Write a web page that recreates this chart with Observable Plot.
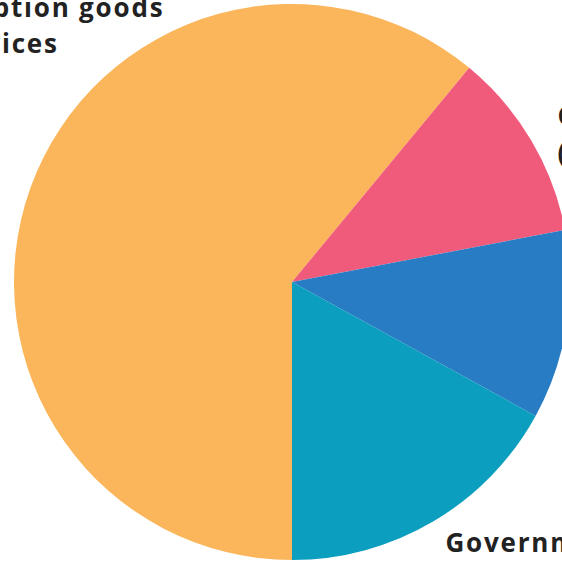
<!DOCTYPE html>
<html>
<head>
<meta charset="utf-8">
<script src="https://cdn.jsdelivr.net/npm/d3@7"></script>
<script src="https://cdn.jsdelivr.net/npm/@observablehq/plot@0.6"></script>
<style>
  html, body { margin: 0; padding: 0; background: #fff; }
  #chart { width: 562px; height: 562px; overflow: hidden; }
</style>
</head>
<body>
<div id="chart"></div>
<script>
// Data
const categories = ["Consumption goods\nand services", "Capital goods\n(investment)", "Net exports", "Government"];
const shares = [61, 11, 11, 17];
const colors = ["#FBB65B", "#F05B7C", "#287CC3", "#0B9EBE"];

const slices = categories.map((c, i) => ({category: c, value: shares[i], color: colors[i]}));

// Pie layout: start at 6 o'clock, clockwise
const pie = d3.pie().value(d => d.value).sort(null).startAngle(Math.PI).endAngle(3 * Math.PI);
const arcs = pie(slices);

// Label anchors (in pie-radius units; y is baseline of last line)
const labels = [
  {text: categories[0], x: -1.496, y: 0.824},
  {text: categories[1], x: 0.953, y: 0.435},
  {text: categories[3], x: 0.55, y: -0.97}
];

function pieMark(index, scales, values, dimensions) {
  const cx = scales.x(0), cy = scales.y(0);
  const r = scales.x(1) - scales.x(0);
  const arc = d3.arc().innerRadius(0).outerRadius(r);
  const g = d3.create("svg:g").attr("transform", `translate(${cx},${cy})`);
  g.selectAll("path")
    .data(arcs)
    .join("path")
    .attr("d", arc)
    .attr("fill", d => d.data.color);
  return g.node();
}

const chart = Plot.plot({
  width: 562,
  height: 562,
  margin: 0,
  x: {domain: [-1, 1], range: [14, 570], axis: null},
  y: {domain: [-1, 1], range: [560, 4], axis: null},
  style: {fontFamily: "'Open Sans', Lato, sans-serif", background: "white", letterSpacing: "1.8px"},
  marks: [
    Plot.dot([{x: -1, y: -1}, {x: 1, y: 1}], {x: "x", y: "y", r: 0, strokeOpacity: 0}),
    pieMark,
    Plot.text(labels, {
      x: "x", y: "y", text: "text",
      fontSize: 26,
      fontWeight: "bold",
      fill: "#222",
      textAnchor: "start",
      lineAnchor: "bottom",
      lineHeight: 1.42
    })
  ]
});
document.getElementById("chart").appendChild(chart);
</script>
</body>
</html>
